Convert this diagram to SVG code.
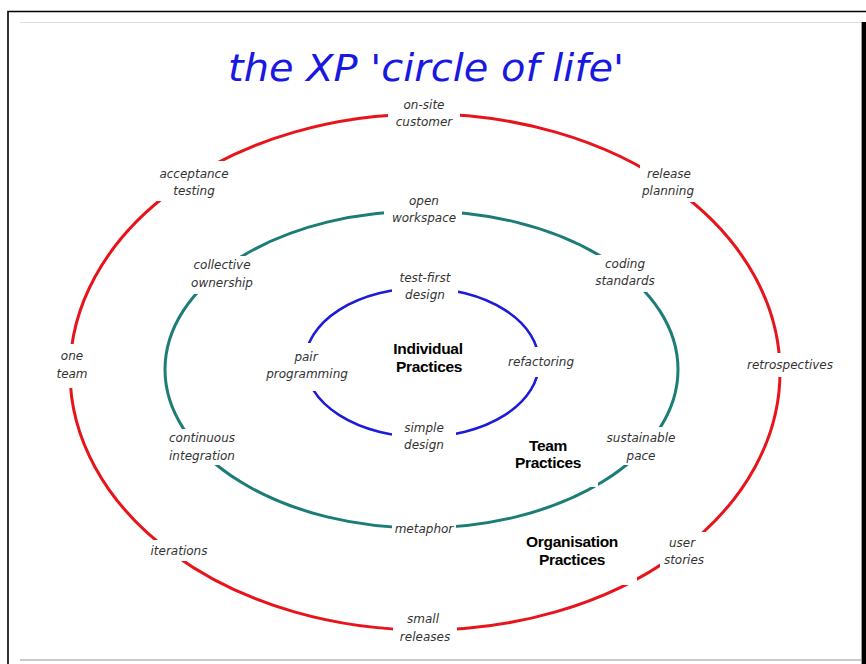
<svg xmlns="http://www.w3.org/2000/svg" width="866" height="664" viewBox="0 0 866 664">
  <style>
    .lbl { font-family: "DejaVu Sans", "Liberation Sans", sans-serif; font-style: italic; font-size: 12px; fill: #333; text-anchor: middle; }
    .grp { font-family: "Liberation Sans", Arial, sans-serif; font-weight: bold; font-size: 15.5px; fill: #000; text-anchor: middle; letter-spacing: -0.3px; }
    .pad { fill: #ffffff; }
    .ring { fill: none; }
    .org { stroke: #e8141b; stroke-width: 3; }
    .team { stroke: #1c7d77; stroke-width: 3; }
    .ind { stroke: #1c1cd8; stroke-width: 2.6; }
  </style>

  <!-- page and frame -->
  <rect x="0" y="0" width="866" height="664" fill="#ffffff"/>
  <path d="M8 664 V11.5 H866" fill="none" stroke="#000" stroke-width="1.6"/>
  <line x1="20" y1="22.5" x2="862" y2="22.5" stroke="#dedede" stroke-width="1.2"/>
  <line x1="20" y1="660" x2="862" y2="660" stroke="#b8b8b8" stroke-width="1.5"/>
  <rect x="862" y="22" width="4" height="642" fill="#000"/>
  <line x1="861.5" y1="22" x2="861.5" y2="664" stroke="#9a9a9a" stroke-width="1"/>

  <!-- title -->
  <text x="426" y="81" font-family="DejaVu Sans, sans-serif" font-style="italic" font-size="37" fill="#1818e0" text-anchor="middle" textLength="396" lengthAdjust="spacingAndGlyphs">the XP 'circle of life'</text>

  <!-- the three practice rings -->
  <g id="rings">
    <ellipse class="ring org" cx="425" cy="372" rx="355" ry="258"/>
    <ellipse class="ring team" cx="421.5" cy="369.5" rx="256.5" ry="158.5"/>
    <ellipse class="ring ind" cx="422" cy="362.5" rx="117" ry="74.5"/>
  </g>

  <!-- group headings -->
  <g id="individual-practices">
    <text class="grp" x="428" y="354">Individual</text>
    <text class="grp" x="429" y="372">Practices</text>
  </g>
  <g id="team-practices">
    <rect class="pad" x="492" y="432" width="106" height="55"/>
    <text class="grp" x="548" y="451">Team</text>
    <text class="grp" x="548" y="468">Practices</text>
  </g>
  <g id="organisation-practices">
    <rect class="pad" x="512" y="527" width="125" height="58"/>
    <text class="grp" x="572" y="547">Organisation</text>
    <text class="grp" x="572" y="565">Practices</text>
  </g>

  <!-- outer ring: organisation practices -->
  <g id="on-site-customer">
    <rect class="pad" x="388" y="96" width="72" height="34"/>
    <text class="lbl" x="424" y="109">on-site</text>
    <text class="lbl" x="424" y="126">customer</text>
  </g>
  <g id="acceptance-testing">
    <rect class="pad" x="152" y="161" width="80" height="40"/>
    <text class="lbl" x="194" y="178">acceptance</text>
    <text class="lbl" x="194" y="195">testing</text>
  </g>
  <g id="release-planning">
    <rect class="pad" x="640" y="160" width="60" height="42"/>
    <text class="lbl" x="669" y="178">release</text>
    <text class="lbl" x="668" y="195">planning</text>
  </g>
  <g id="one-team">
    <rect class="pad" x="55" y="344" width="35" height="44"/>
    <text class="lbl" x="72" y="360">one</text>
    <text class="lbl" x="72" y="378">team</text>
  </g>
  <g id="retrospectives">
    <rect class="pad" x="742" y="353" width="96" height="24"/>
    <text class="lbl" x="790" y="369">retrospectives</text>
  </g>
  <g id="iterations">
    <rect class="pad" x="146" y="540" width="68" height="21"/>
    <text class="lbl" x="179" y="555">iterations</text>
  </g>
  <g id="user-stories">
    <rect class="pad" x="660" y="532" width="50" height="37"/>
    <text class="lbl" x="682" y="547">user</text>
    <text class="lbl" x="684" y="564">stories</text>
  </g>
  <g id="small-releases">
    <rect class="pad" x="393" y="610" width="64" height="35"/>
    <text class="lbl" x="423" y="623">small</text>
    <text class="lbl" x="425" y="641">releases</text>
  </g>

  <!-- middle ring: team practices -->
  <g id="open-workspace">
    <rect class="pad" x="384" y="192" width="78" height="34"/>
    <text class="lbl" x="424" y="205">open</text>
    <text class="lbl" x="424" y="222">workspace</text>
  </g>
  <g id="collective-ownership">
    <rect class="pad" x="186" y="256" width="72" height="38"/>
    <text class="lbl" x="222" y="269">collective</text>
    <text class="lbl" x="222" y="287">ownership</text>
  </g>
  <g id="coding-standards">
    <rect class="pad" x="592" y="255" width="68" height="37"/>
    <text class="lbl" x="625" y="268">coding</text>
    <text class="lbl" x="625" y="285">standards</text>
  </g>
  <g id="continuous-integration">
    <rect class="pad" x="164" y="429" width="78" height="36"/>
    <text class="lbl" x="202" y="442">continuous</text>
    <text class="lbl" x="202" y="460">integration</text>
  </g>
  <g id="sustainable-pace">
    <rect class="pad" x="603" y="427" width="77" height="38"/>
    <text class="lbl" x="641" y="442">sustainable</text>
    <text class="lbl" x="641" y="460">pace</text>
  </g>
  <g id="metaphor">
    <rect class="pad" x="392" y="520" width="64" height="17"/>
    <text class="lbl" x="424" y="533">metaphor</text>
  </g>

  <!-- inner ring: individual practices -->
  <g id="test-first-design">
    <rect class="pad" x="392" y="270" width="66" height="33"/>
    <text class="lbl" x="425" y="282">test-first</text>
    <text class="lbl" x="425" y="299">design</text>
  </g>
  <g id="pair-programming">
    <rect class="pad" x="265" y="343" width="85" height="48"/>
    <text class="lbl" x="306" y="361">pair</text>
    <text class="lbl" x="307" y="378">programming</text>
  </g>
  <g id="refactoring">
    <rect class="pad" x="500" y="347" width="82" height="30"/>
    <text class="lbl" x="541" y="366">refactoring</text>
  </g>
  <g id="simple-design">
    <rect class="pad" x="392" y="420" width="64" height="33"/>
    <text class="lbl" x="424" y="432">simple</text>
    <text class="lbl" x="424" y="449">design</text>
  </g>
</svg>
